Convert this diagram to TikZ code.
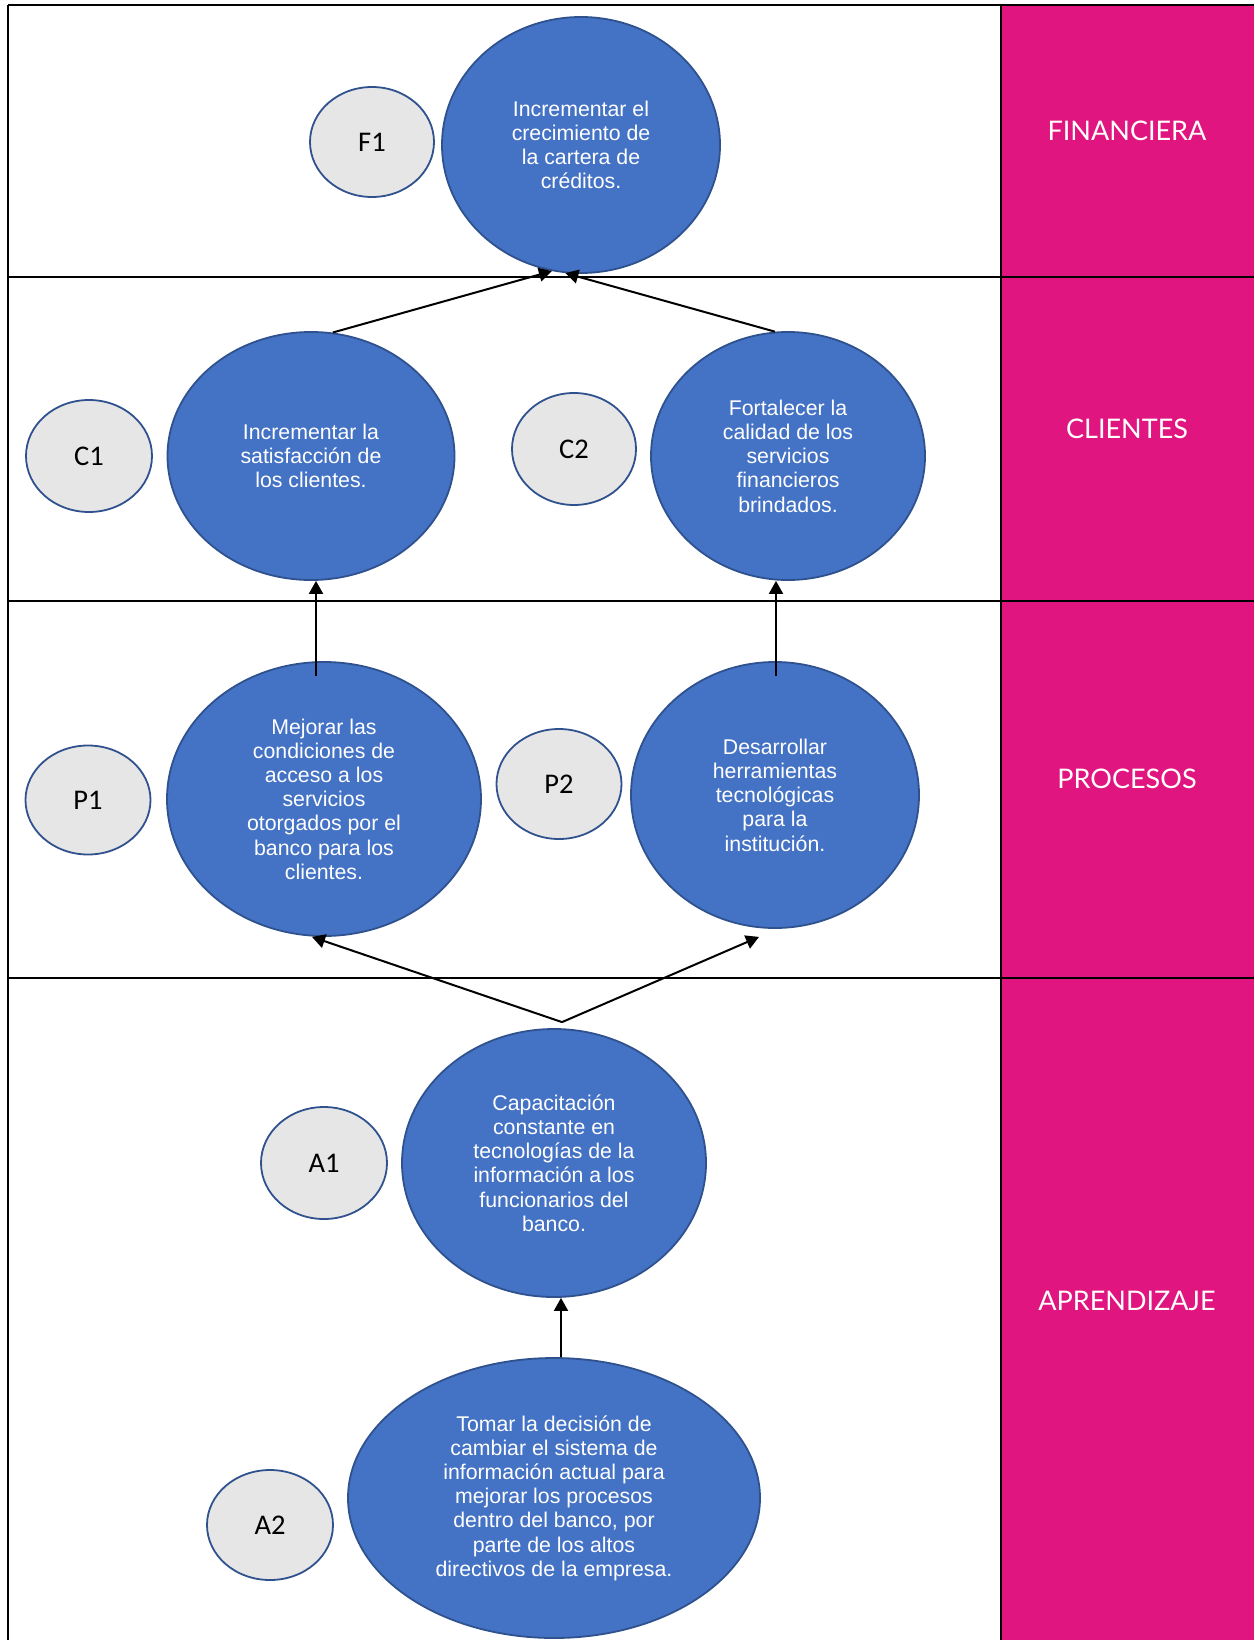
\documentclass[tikz,border=0pt]{standalone}
\usepackage{fontspec}
\setmainfont{Liberation Sans}
\newfontfamily\calibfont{Carlito}
\newfontfamily\labfont{Lato}
\usetikzlibrary{shapes.geometric,arrows.meta}
\definecolor{objblue}{RGB}{68,114,196}
\definecolor{objline}{RGB}{47,82,143}
\definecolor{codefill}{RGB}{231,230,230}
\definecolor{magbar}{RGB}{224,21,127}
\begin{document}
\begin{tikzpicture}[x=1pt,y=-1pt,
  objective/.style={ellipse, draw=objline, line width=1.8pt, fill=objblue, text=white,
    align=center, inner sep=0pt, font=\fontsize{21.3}{24.2}\selectfont},
  codeell/.style={ellipse, draw=objline, line width=1.8pt, fill=codefill, text=black,
    inner sep=0pt, font=\calibfont\fontsize{28.5}{30}\selectfont},
  persp/.style={text=white, font=\labfont\fontsize{27}{30}\selectfont},
  frameline/.style={line width=2pt, black},
  arr/.style={line width=2pt, black, -{Triangle[length=13pt,width=14pt]}}]
\useasboundingbox (0,0) rectangle (1254,1640);
\fill[white] (0,0) rectangle (1254,1640);
\fill[magbar] (1001,5) rectangle (1254,1640);
% table lines
\draw[frameline] (8,5) -- (1254,5);
\draw[frameline] (8,277) -- (1254,277);
\draw[frameline] (8,601) -- (1254,601);
\draw[frameline] (8,978) -- (1254,978);
\draw[frameline] (8,5) -- (8,1640);
\draw[frameline] (1001,5) -- (1001,1640);
% perspective labels
\node[persp] (lf) at (1127,131) {FINANCIERA};
\node[persp] (lc) at (1127,429) {CLIENTES};
\node[persp] (lp) at (1127,779) {PROCESOS};
\node[persp] (la) at (1127,1301) {APRENDIZAJE};
% financial
\node[codeell, minimum width=124pt, minimum height=110pt] (f1s) at (372,142) {F1};
\node[objective, minimum width=278pt, minimum height=256pt] (f1) at (581,145)
  {Incrementar el\\crecimiento de\\la cartera de\\créditos.};
% clients
\node[codeell, minimum width=126pt, minimum height=112pt] (c1s) at (89,456) {C1};
\node[objective, minimum width=287pt, minimum height=248pt] (c1) at (311,456)
  {Incrementar la\\satisfacción de\\los clientes.};
\node[codeell, minimum width=124pt, minimum height=112pt] (c2s) at (574,449) {C2};
\node[objective, minimum width=274pt, minimum height=248pt] (c2) at (788,456)
  {Fortalecer la\\calidad de los\\servicios\\financieros\\brindados.};
% processes
\node[codeell, minimum width=125pt, minimum height=109pt] (p1s) at (88,800) {P1};
\node[objective, minimum width=314pt, minimum height=274pt] (p1) at (324,799)
  {Mejorar las\\condiciones de\\acceso a los\\servicios\\otorgados por el\\banco para los\\clientes.};
\node[codeell, minimum width=125pt, minimum height=110pt] (p2s) at (559,784) {P2};
\node[objective, minimum width=288pt, minimum height=266pt] (p2) at (775,795)
  {Desarrollar\\herramientas\\tecnológicas\\para la\\institución.};
% learning
\node[codeell, minimum width=126pt, minimum height=112pt] (a1s) at (324,1163) {A1};
\node[objective, minimum width=304pt, minimum height=268pt] (a1) at (554,1163)
  {Capacitación\\constante en\\tecnologías de la\\información a los\\funcionarios del\\banco.};
\node[codeell, minimum width=126pt, minimum height=110pt] (a2s) at (270,1525) {A2};
\node[objective, minimum width=412pt, minimum height=280pt] (a2) at (554,1498)
  {Tomar la decisión de\\cambiar el sistema de\\información actual para\\mejorar los procesos\\dentro del banco, por\\parte de los altos\\directivos de la empresa.};
% connectors
\coordinate (apex) at ([xshift=8pt,yshift=6pt]a1.north);
\draw[arr] (c1.80) -- (f1.257);
\draw[arr] (c2.96) -- (f1.263);
\draw[arr] ([xshift=-8pt,yshift=-15pt]p1.north) -- ([xshift=5pt]c1.south);
\draw[arr] ([xshift=1pt,yshift=-15pt]p2.north) -- ([xshift=-12pt]c2.south);
\draw[arr] (apex) -- ([xshift=-12pt]p1.south);
\draw[arr] (apex) -- ([xshift=-16pt,yshift=-8pt]p2.south);
\draw[arr] ([xshift=7pt]a2.north) -- ([xshift=7pt]a1.south);
\end{tikzpicture}
\end{document}
